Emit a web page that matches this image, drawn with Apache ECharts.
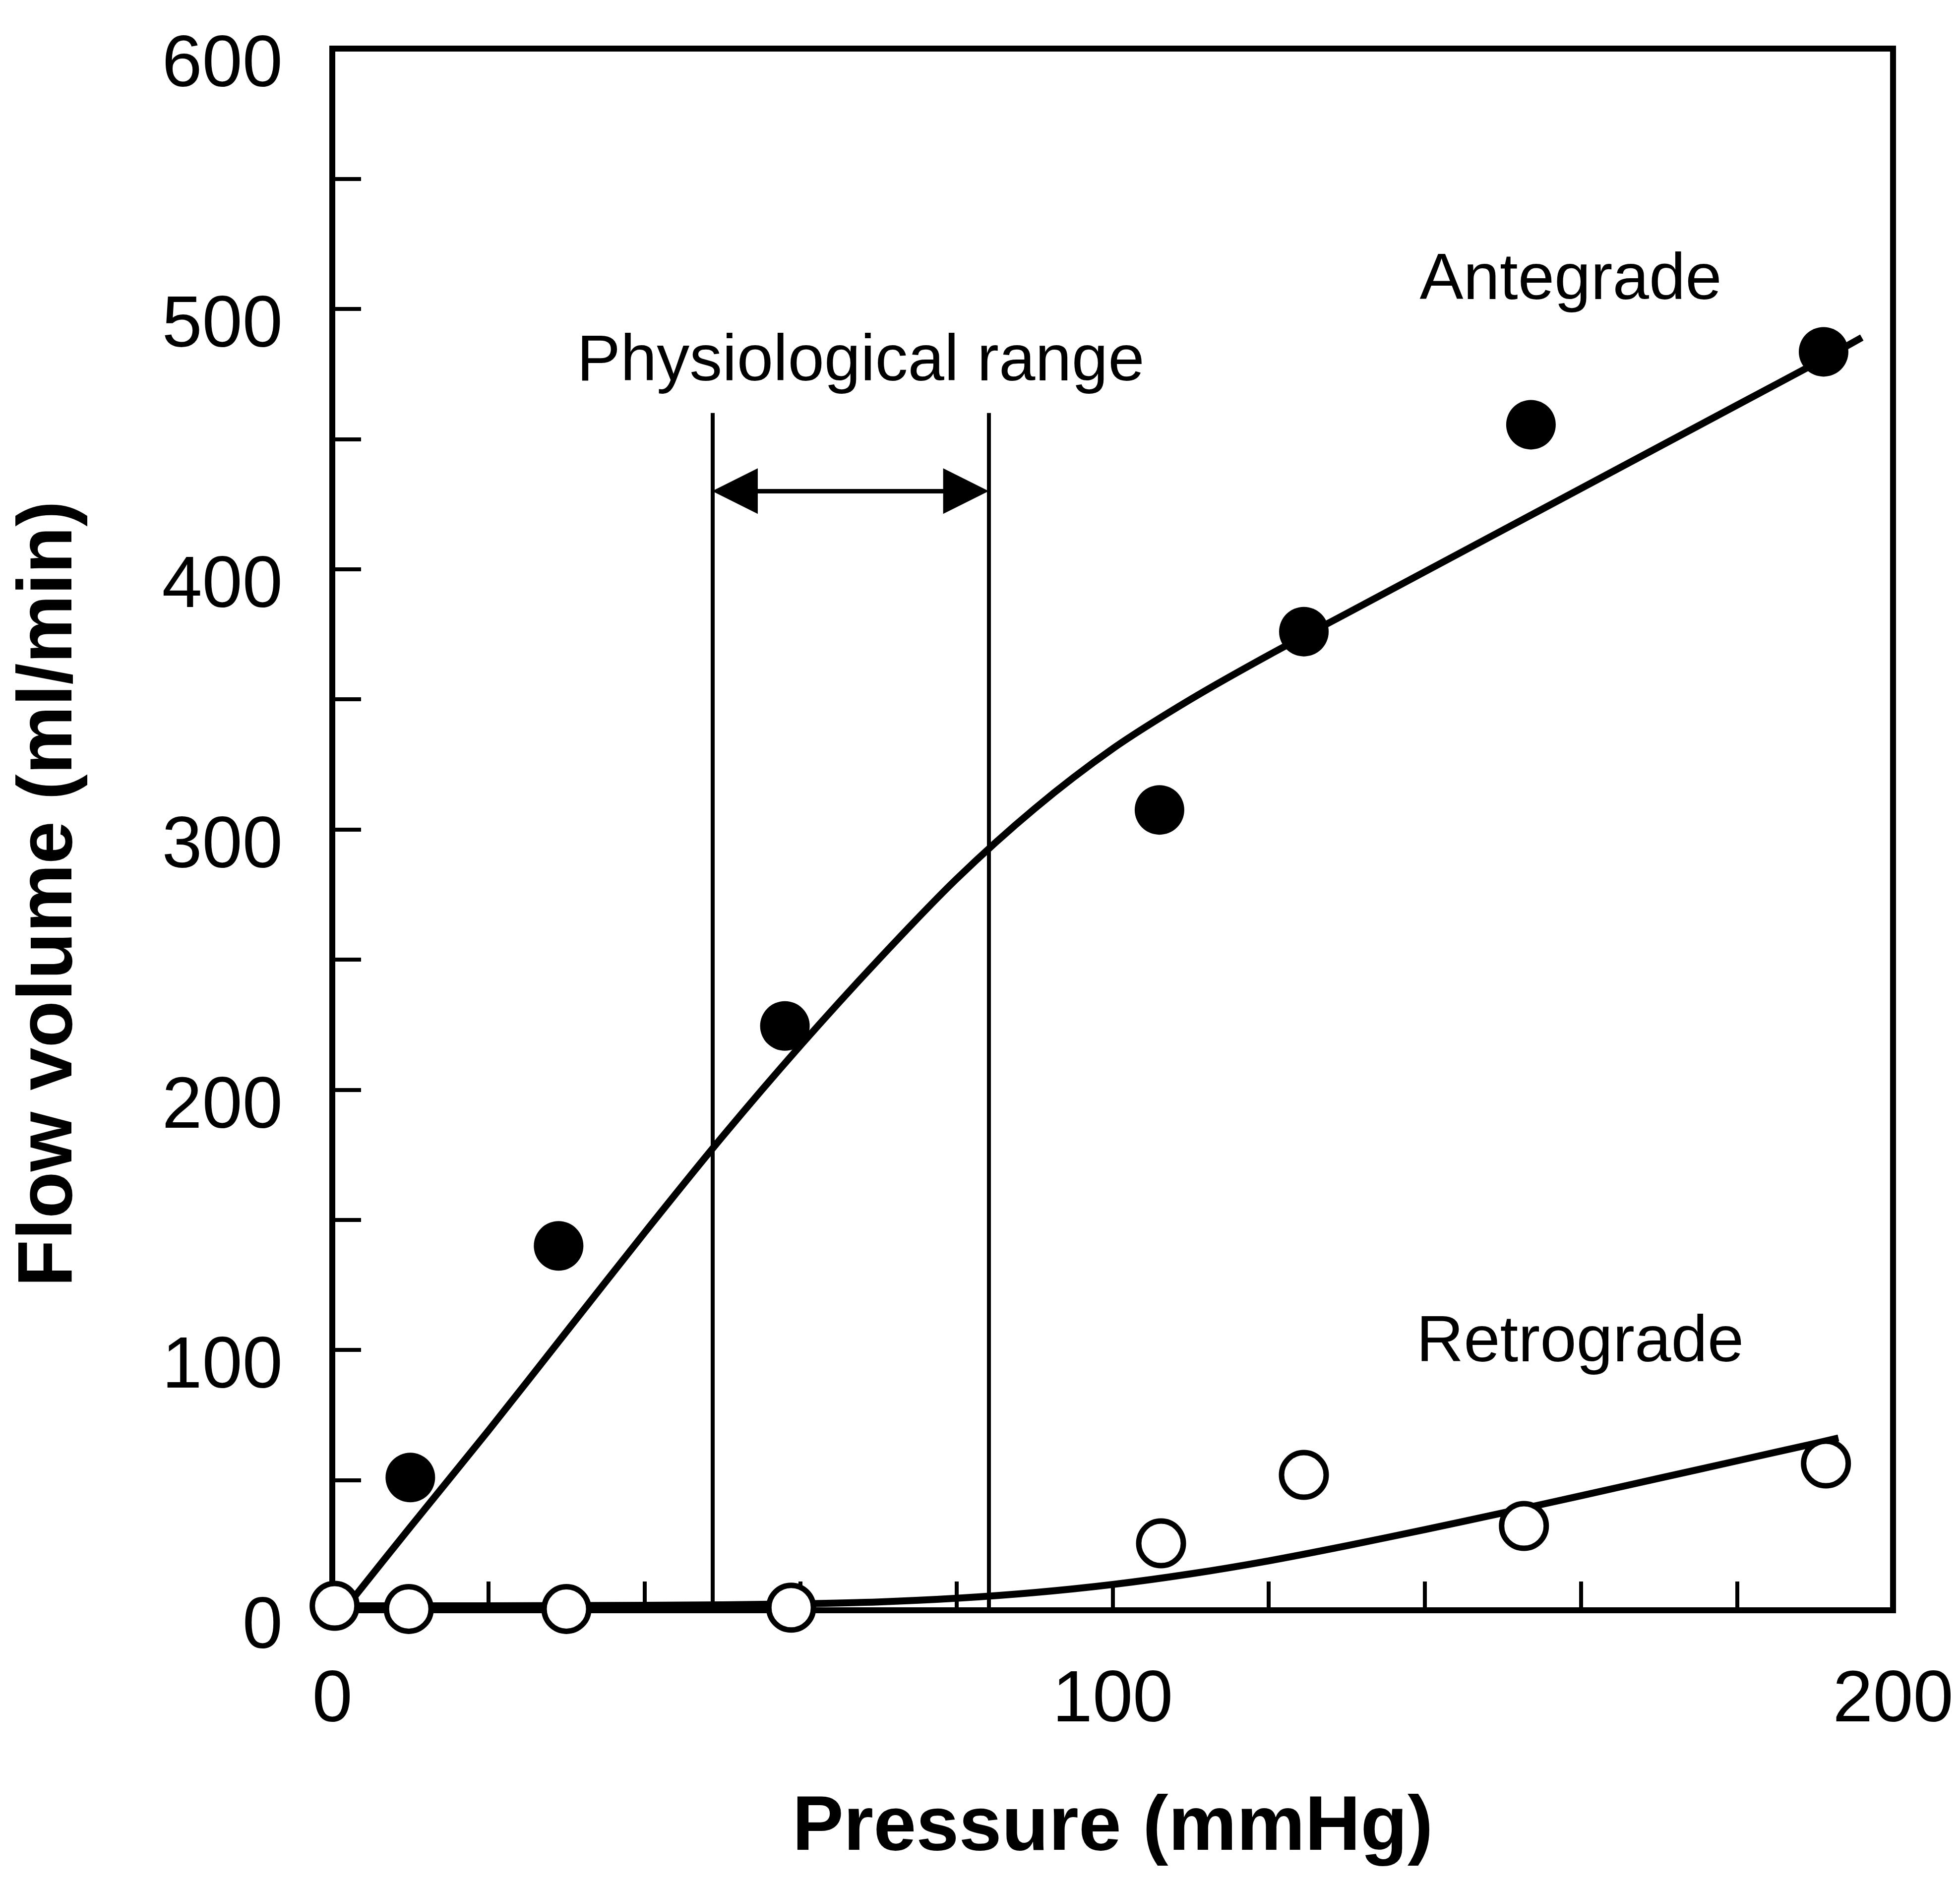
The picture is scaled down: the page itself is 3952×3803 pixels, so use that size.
<!DOCTYPE html>
<html><head><meta charset="utf-8">
<script src="https://cdn.jsdelivr.net/npm/echarts@6/dist/echarts.min.js"></script>
<style>html,body{margin:0;padding:0;background:#fff}#c{width:3952px;height:3803px}</style>
</head><body><div id="c"></div>
<script>
// Measured data points
const antegradeX = [10, 29, 58, 106, 124.5, 153.6, 191.1];
const antegradeY = [51, 140, 224.5, 307.5, 376, 455.5, 483.5];
const retrogradeX = [0.3, 9.8, 30, 58.8, 106.2, 124.5, 152.7, 191.4];
const retrogradeY = [1.7, 0.5, 0.5, 1, 25.7, 52, 32.4, 56.4];
// Fitted curves
const anteFitX = [2, 10, 20, 30, 40, 50, 60, 70, 80, 90, 100, 110, 120, 130, 140, 150, 160, 170, 180, 190, 196];
const anteFitY = [2, 32, 69, 107, 145, 182, 217, 250, 281, 308, 331, 350, 367, 383, 399, 415, 431, 447, 463, 479, 489];
const retroFitX = [2, 10, 20, 30, 40, 50, 60, 70, 80, 90, 100, 110, 120, 130, 140, 150, 160, 170, 180, 190, 193];
const retroFitY = [1.7, 1.7, 1.7, 1.8, 1.9, 2.1, 2.5, 3.2, 4.6, 6.8, 9.9, 14, 19, 24.8, 31, 37.4, 44, 50.7, 57.4, 64.1, 66.2];
// Physiological range annotation
const physioRange = [48.7, 84.1];
const physioTop = 460;
const arrowY = 430;
const arrowInset = 2.9;
// Text annotations
const annotTexts = ['Physiological range', 'Antegrade', 'Retrograde'];
const annotX = [67.7, 158.7, 159.9];
const annotY = [479.4, 510.7, 102.5];
// Axes
const xMin = 0, xMax = 200, xStep = 20, xLabelStep = 100;
const yMin = 0, yMax = 600, yStep = 50, yLabelStep = 100;

const zip = (a, b) => a.map((v, i) => [v, b[i]]);
const FONT = 'Liberation Sans';

const chart = echarts.init(document.getElementById('c'));
chart.setOption({
  animation: false,
  backgroundColor: '#fff',
  grid: { left: 670, right: 135, top: 98, bottom: 556, show: true, borderColor: '#000', borderWidth: 12, backgroundColor: 'transparent' },
  xAxis: {
    type: 'value', min: xMin, max: xMax, interval: xStep,
    name: 'Pressure (mmHg)', nameLocation: 'middle', nameGap: 363,
    nameTextStyle: { fontSize: 155, fontWeight: 'bold', fontFamily: FONT, color: '#000' },
    axisLine: { show: true, lineStyle: { color: '#000', width: 12 } },
    axisTick: { show: true, inside: true, length: 58, lineStyle: { color: '#000', width: 8 } },
    axisLabel: { margin: 111, fontSize: 146, fontFamily: FONT, color: '#000', showMinLabel: true, showMaxLabel: true,
      formatter: v => (v % xLabelStep === 0 ? String(v) : '') },
    splitLine: { show: false }
  },
  yAxis: {
    type: 'value', min: yMin, max: yMax, interval: yStep,
    name: 'Flow volume (ml/min)', nameLocation: 'middle', nameGap: 491,
    nameTextStyle: { fontSize: 155, fontWeight: 'bold', fontFamily: FONT, color: '#000', padding: [0, 260, 0, 0] },
    axisLine: { show: true, lineStyle: { color: '#000', width: 12 } },
    axisTick: { show: true, inside: true, length: 58, lineStyle: { color: '#000', width: 8 } },
    axisLabel: { margin: 100, fontSize: 146, fontFamily: FONT, color: '#000', showMinLabel: true, showMaxLabel: true,
      verticalAlign: 'top', lineHeight: 72,
      formatter: v => (v % yLabelStep === 0 ? String(v) : '') },
    splitLine: { show: false }
  },
  series: [
    {
      type: 'line', name: 'Antegrade fit', data: zip(anteFitX, anteFitY), smooth: 0.3,
      showSymbol: false, lineStyle: { color: '#000', width: 14, opacity: 1, cap: 'butt', join: 'round' }, silent: true, z: 2
    },
    {
      type: 'line', name: 'Retrograde fit', data: zip(retroFitX, retroFitY), smooth: 0.3,
      showSymbol: false, lineStyle: { color: '#000', width: 14, opacity: 1, cap: 'butt', join: 'round' }, silent: true, z: 2,
      markLine: {
        silent: true, symbol: 'none', label: { show: false },
        lineStyle: { color: '#000', width: 8, type: 'solid', opacity: 1 },
        data: [
          [{ coord: [physioRange[0], 0] }, { coord: [physioRange[0], physioTop] }],
          [{ coord: [physioRange[1], 0] }, { coord: [physioRange[1], physioTop] }]
        ]
      }
    },
    {
      type: 'line', name: 'Range arrow', data: [], silent: true, z: 2,
      markLine: {
        silent: true, symbol: ['triangle', 'triangle'], symbolSize: [92, 92], label: { show: false },
        lineStyle: { color: '#000', width: 9, type: 'solid', opacity: 1 },
        itemStyle: { color: '#000', opacity: 1 },
        data: [
          [{ coord: [physioRange[0] + arrowInset, arrowY] }, { coord: [physioRange[1] - arrowInset, arrowY] }]
        ]
      }
    },
    {
      type: 'scatter', name: 'Antegrade', data: zip(antegradeX, antegradeY), symbol: 'circle', symbolSize: 100,
      itemStyle: { color: '#000', opacity: 1 }, z: 3
    },
    {
      type: 'scatter', name: 'Retrograde', data: zip(retrogradeX, retrogradeY), symbol: 'circle', symbolSize: 90,
      itemStyle: { color: '#fff', borderColor: '#000', borderWidth: 11, opacity: 1 }, z: 4
    },
    {
      type: 'scatter', name: 'Annotations', silent: true, symbolSize: 0, z: 5,
      itemStyle: { opacity: 1 },
      data: annotTexts.map((t, i) => ({ name: t, value: [annotX[i], annotY[i]] })),
      label: { show: true, position: 'inside', formatter: '{b}', fontSize: 132, fontFamily: FONT, color: '#000', opacity: 1 }
    }
  ]
});
</script></body></html>
